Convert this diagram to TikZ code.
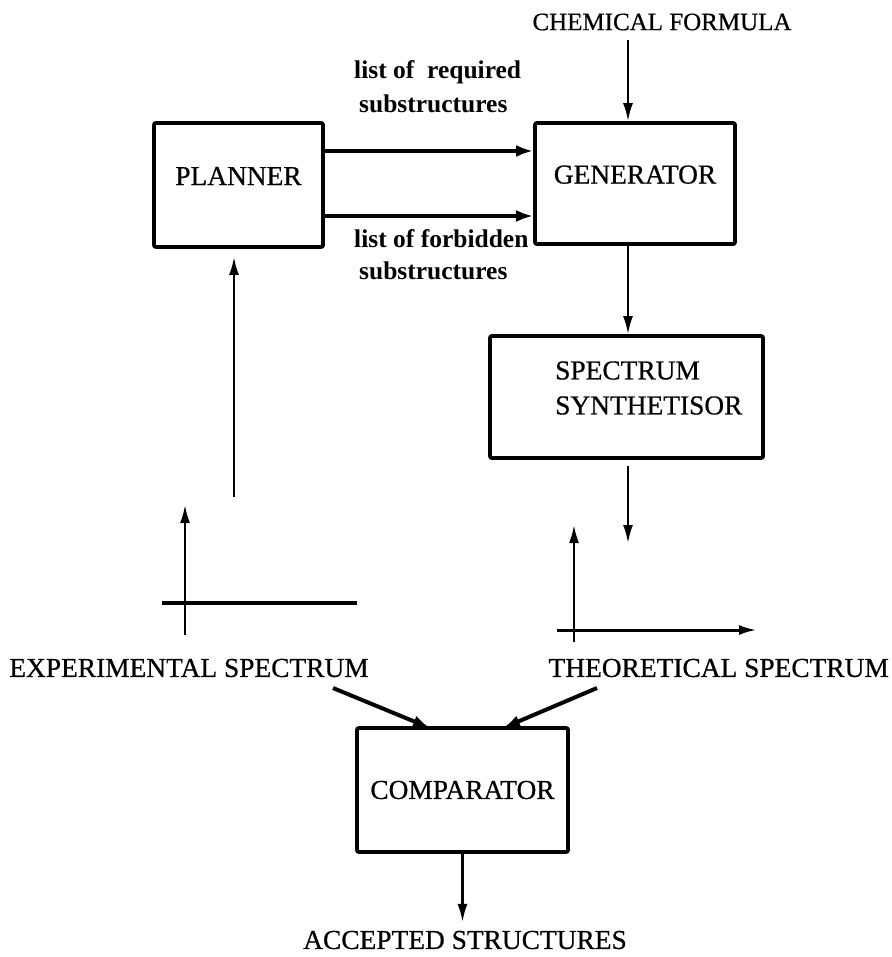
\documentclass[tikz,border=0pt]{standalone}
\usepackage{fontspec}
\setmainfont{Liberation Serif}
\newfontfamily\capsfont[FakeBold=0.6]{Liberation Serif}
\usetikzlibrary{arrows.meta}
\tikzset{
  box/.style={draw, line width=3.8pt, rounded corners=2pt, inner sep=0pt},
  caps/.style={font=\capsfont\fontsize{27.4}{35}\selectfont, inner sep=0pt},
  lab/.style={font=\bfseries\fontsize{25.5}{30}\selectfont, inner sep=0pt, anchor=west},
  thinarr/.style={line width=2.2pt, -{Latex[length=18pt,width=10pt]}},
  thickarr/.style={line width=4pt, -{Latex[length=17pt,width=12pt]}},
  axisline/.style={line width=3.5pt},
}
\begin{document}
\begin{tikzpicture}[x=1pt,y=-1pt]
\useasboundingbox (0,0) rectangle (891,957);
% boxes
\node[box, caps, minimum width=169pt, minimum height=124pt, text depth=18pt] (planner) at (238.5,185) {PLANNER};
\node[box, caps, minimum width=200pt, minimum height=121pt, text depth=18pt] (generator) at (635,183.5) {GENERATOR};
\node[box, minimum width=273pt, minimum height=122pt] (ss) at (626.5,397) {};
\node[caps, anchor=west, align=left] (sstext) at (555,388) {SPECTRUM\\SYNTHETISOR};
\node[box, caps, minimum width=211pt, minimum height=124pt] (comparator) at (462.5,790) {COMPARATOR};
% texts
\node[caps, font=\capsfont\fontsize{25}{30}\selectfont] (chem) at (662,22) {CHEMICAL FORMULA};
\node[caps] (exp) at (189,668) {EXPERIMENTAL SPECTRUM};
\node[caps, anchor=east] (theo) at (889,668) {THEORETICAL SPECTRUM};
\node[caps] (acc) at (465,940) {ACCEPTED STRUCTURES};
\node[lab] (req1) at (354,72) {list of \ required};
\node[lab] (req2) at (359,104) {substructures};
\node[lab] (forb1) at (354,239) {list of forbidden};
\node[lab] (forb2) at (359,271) {substructures};
% coordinates
\coordinate (cf) at (628,40);
\coordinate (a1) at (0,151);
\coordinate (a2) at (0,216);
\coordinate (pl) at (234,497);
\coordinate (pt) at (234,257);
\coordinate (ey0) at (185,635);
\coordinate (ey1) at (185,505);
\coordinate (ex0) at (162,603);
\coordinate (ex1) at (357,603);
\coordinate (ty0) at (574,642);
\coordinate (ty1) at (574,525);
\coordinate (tx0) at (557,630);
\coordinate (tx1) at (757,630);
\coordinate (s0) at (628,466);
\coordinate (s1) at (628,543);
\coordinate (ce0) at (333,688);
\coordinate (ce1) at (430,728);
\coordinate (ct0) at (597,688);
\coordinate (ct1) at (503,728);
% connectors
\draw[thinarr] (cf) -- (cf |- generator.north);
\draw[thickarr] (planner.east |- a1) -- (generator.west |- a1);
\draw[thickarr] (planner.east |- a2) -- (generator.west |- a2);
\draw[thinarr] (cf |- generator.south) -- (cf |- ss.north);
\draw[thinarr] (pl) -- (pt);
\draw[thinarr] (ey0) -- (ey1);
\draw[axisline] (ex0) -- (ex1);
\draw[thinarr] (s0) -- (s1);
\draw[thinarr] (ty0) -- (ty1);
\draw[thinarr, line width=3pt] (tx0) -- (tx1);
\draw[thickarr] (ce0) -- (ce1);
\draw[thickarr] (ct0) -- (ct1);
\draw[thinarr] (comparator.south) -- ++(0,68);
\end{tikzpicture}
\end{document}
